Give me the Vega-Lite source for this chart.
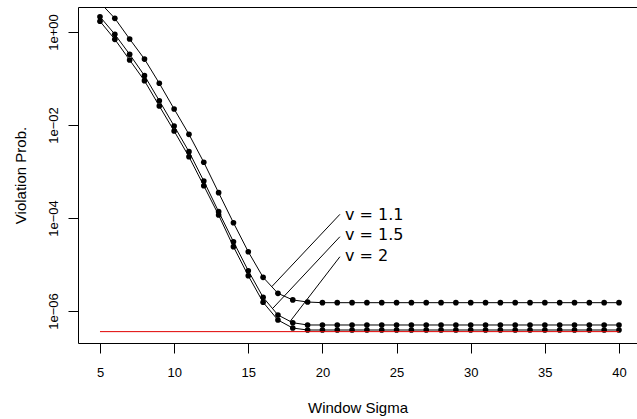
{
  "$schema": "https://vega.github.io/schema/vega-lite/v6.json",
  "width": 559,
  "height": 336,
  "autosize": {"type": "none"},
  "padding": {"left": 78, "top": 7, "right": 0, "bottom": 76},
  "background": "white",
  "view": {"stroke": null},
  "config": {
    "axis": {
      "grid": false,
      "domainColor": "black",
      "domainWidth": 1,
      "tickColor": "black",
      "tickSize": 10,
      "labelColor": "black",
      "titleColor": "black",
      "labelFont": "Liberation Sans",
      "titleFont": "Liberation Sans",
      "labelFontSize": 13,
      "titleFontSize": 15,
      "titleFontWeight": "normal"
    }
  },
  "datasets": {
    "curves": [
      {"x": 5, "p": 4.3, "v": "1.1"}, {"x": 6, "p": 1.97, "v": "1.1"}, {"x": 7, "p": 0.707, "v": "1.1"}, {"x": 8, "p": 0.262, "v": "1.1"},
      {"x": 9, "p": 0.0789, "v": "1.1"}, {"x": 10, "p": 0.0221, "v": "1.1"}, {"x": 11, "p": 0.0063, "v": "1.1"}, {"x": 12, "p": 0.00158, "v": "1.1"},
      {"x": 13, "p": 0.00035, "v": "1.1"}, {"x": 14, "p": 7.9e-5, "v": "1.1"}, {"x": 15, "p": 1.88e-5, "v": "1.1"}, {"x": 16, "p": 5.3e-6, "v": "1.1"},
      {"x": 17, "p": 2.4e-6, "v": "1.1"}, {"x": 18, "p": 1.73e-6, "v": "1.1"}, {"x": 19, "p": 1.56e-6, "v": "1.1"}, {"x": 20, "p": 1.51e-6, "v": "1.1"},
      {"x": 21, "p": 1.51e-6, "v": "1.1"}, {"x": 22, "p": 1.51e-6, "v": "1.1"}, {"x": 23, "p": 1.51e-6, "v": "1.1"}, {"x": 24, "p": 1.51e-6, "v": "1.1"},
      {"x": 25, "p": 1.51e-6, "v": "1.1"}, {"x": 26, "p": 1.51e-6, "v": "1.1"}, {"x": 27, "p": 1.51e-6, "v": "1.1"}, {"x": 28, "p": 1.51e-6, "v": "1.1"},
      {"x": 29, "p": 1.51e-6, "v": "1.1"}, {"x": 30, "p": 1.51e-6, "v": "1.1"}, {"x": 31, "p": 1.51e-6, "v": "1.1"}, {"x": 32, "p": 1.51e-6, "v": "1.1"},
      {"x": 33, "p": 1.51e-6, "v": "1.1"}, {"x": 34, "p": 1.51e-6, "v": "1.1"}, {"x": 35, "p": 1.51e-6, "v": "1.1"}, {"x": 36, "p": 1.51e-6, "v": "1.1"},
      {"x": 37, "p": 1.51e-6, "v": "1.1"}, {"x": 38, "p": 1.51e-6, "v": "1.1"}, {"x": 39, "p": 1.51e-6, "v": "1.1"}, {"x": 40, "p": 1.51e-6, "v": "1.1"},
      {"x": 5, "p": 2.13, "v": "1.5"}, {"x": 6, "p": 0.893, "v": "1.5"}, {"x": 7, "p": 0.331, "v": "1.5"}, {"x": 8, "p": 0.115, "v": "1.5"},
      {"x": 9, "p": 0.0333, "v": "1.5"}, {"x": 10, "p": 0.00951, "v": "1.5"}, {"x": 11, "p": 0.00267, "v": "1.5"}, {"x": 12, "p": 0.000625, "v": "1.5"},
      {"x": 13, "p": 0.000137, "v": "1.5"}, {"x": 14, "p": 3.09e-5, "v": "1.5"}, {"x": 15, "p": 7.35e-6, "v": "1.5"}, {"x": 16, "p": 1.97e-6, "v": "1.5"},
      {"x": 17, "p": 8.2e-7, "v": "1.5"}, {"x": 18, "p": 5.6e-7, "v": "1.5"}, {"x": 19, "p": 5.0e-7, "v": "1.5"}, {"x": 20, "p": 5.0e-7, "v": "1.5"},
      {"x": 21, "p": 5.0e-7, "v": "1.5"}, {"x": 22, "p": 5.0e-7, "v": "1.5"}, {"x": 23, "p": 5.0e-7, "v": "1.5"}, {"x": 24, "p": 5.0e-7, "v": "1.5"},
      {"x": 25, "p": 5.0e-7, "v": "1.5"}, {"x": 26, "p": 5.0e-7, "v": "1.5"}, {"x": 27, "p": 5.0e-7, "v": "1.5"}, {"x": 28, "p": 5.0e-7, "v": "1.5"},
      {"x": 29, "p": 5.0e-7, "v": "1.5"}, {"x": 30, "p": 5.0e-7, "v": "1.5"}, {"x": 31, "p": 5.0e-7, "v": "1.5"}, {"x": 32, "p": 5.0e-7, "v": "1.5"},
      {"x": 33, "p": 5.0e-7, "v": "1.5"}, {"x": 34, "p": 5.0e-7, "v": "1.5"}, {"x": 35, "p": 5.0e-7, "v": "1.5"}, {"x": 36, "p": 5.0e-7, "v": "1.5"},
      {"x": 37, "p": 5.0e-7, "v": "1.5"}, {"x": 38, "p": 5.0e-7, "v": "1.5"}, {"x": 39, "p": 5.0e-7, "v": "1.5"}, {"x": 40, "p": 5.0e-7, "v": "1.5"},
      {"x": 5, "p": 1.7, "v": "2"}, {"x": 6, "p": 0.697, "v": "2"}, {"x": 7, "p": 0.25, "v": "2"}, {"x": 8, "p": 0.0897, "v": "2"},
      {"x": 9, "p": 0.0256, "v": "2"}, {"x": 10, "p": 0.00743, "v": "2"}, {"x": 11, "p": 0.00208, "v": "2"}, {"x": 12, "p": 0.000495, "v": "2"},
      {"x": 13, "p": 0.000116, "v": "2"}, {"x": 14, "p": 2.42e-5, "v": "2"}, {"x": 15, "p": 5.74e-6, "v": "2"}, {"x": 16, "p": 1.54e-6, "v": "2"},
      {"x": 17, "p": 6.4e-7, "v": "2"}, {"x": 18, "p": 4.3e-7, "v": "2"}, {"x": 19, "p": 3.9e-7, "v": "2"}, {"x": 20, "p": 3.9e-7, "v": "2"},
      {"x": 21, "p": 3.9e-7, "v": "2"}, {"x": 22, "p": 3.9e-7, "v": "2"}, {"x": 23, "p": 3.9e-7, "v": "2"}, {"x": 24, "p": 3.9e-7, "v": "2"},
      {"x": 25, "p": 3.9e-7, "v": "2"}, {"x": 26, "p": 3.9e-7, "v": "2"}, {"x": 27, "p": 3.9e-7, "v": "2"}, {"x": 28, "p": 3.9e-7, "v": "2"},
      {"x": 29, "p": 3.9e-7, "v": "2"}, {"x": 30, "p": 3.9e-7, "v": "2"}, {"x": 31, "p": 3.9e-7, "v": "2"}, {"x": 32, "p": 3.9e-7, "v": "2"},
      {"x": 33, "p": 3.9e-7, "v": "2"}, {"x": 34, "p": 3.9e-7, "v": "2"}, {"x": 35, "p": 3.9e-7, "v": "2"}, {"x": 36, "p": 3.9e-7, "v": "2"},
      {"x": 37, "p": 3.9e-7, "v": "2"}, {"x": 38, "p": 3.9e-7, "v": "2"}, {"x": 39, "p": 3.9e-7, "v": "2"}, {"x": 40, "p": 3.9e-7, "v": "2"}
    ],
    "ref": [{"x": 5, "x2": 40, "p": 3.6e-7}],
    "leaders": [
      {"x": 21.18, "p": 1.2e-4, "x2": 16.58, "p2": 3.33e-6},
      {"x": 21.18, "p": 3.96e-5, "x2": 16.65, "p2": 1.14e-6},
      {"x": 21.18, "p": 1.47e-5, "x2": 17.81, "p2": 5.9e-7}
    ],
    "labels": [
      {"x": 21.52, "p": 1.16e-4, "label": "v = 1.1"},
      {"x": 21.52, "p": 4.3e-5, "label": "v = 1.5"},
      {"x": 21.52, "p": 1.52e-5, "label": "v = 2"}
    ]
  },
  "resolve": {"axis": {"x": "independent", "y": "independent"}},
  "layer": [
    {
      "data": {"name": "curves"},
      "mark": {"type": "line", "color": "black", "strokeWidth": 1, "clip": true},
      "encoding": {
        "x": {"field": "x", "type": "quantitative",
              "scale": {"domain": [3.517, 41.214], "nice": false, "zero": false},
              "axis": {"orient": "bottom", "values": [5, 10, 15, 20, 25, 30, 35, 40], "title": "Window Sigma", "labelPadding": 13, "titlePadding": 21, "domain": true, "labelFlush": false}},
        "y": {"field": "p", "type": "quantitative",
              "scale": {"type": "log", "domain": [2.05e-7, 3.45], "nice": false, "zero": false},
              "axis": {"orient": "left", "values": [1, 0.01, 0.0001, 0.000001], "title": "Violation Prob.",
                       "labelExpr": "'1e' + (datum.value >= 1 ? '+00' : '\u22120' + round(-log(datum.value)/LN10))",
                       "labelAngle": 270, "labelAlign": "center", "labelBaseline": "bottom", "labelPadding": 8, "titlePadding": 19, "domain": true, "labelFlush": false}},
        "detail": {"field": "v"}
      }
    },
    {
      "data": {"name": "curves"},
      "mark": {"type": "point", "filled": true, "color": "black", "size": 32, "opacity": 1, "clip": true},
      "encoding": {
        "x": {"field": "x", "type": "quantitative", "scale": {"domain": [3.517, 41.214], "nice": false, "zero": false}, "axis": null},
        "y": {"field": "p", "type": "quantitative", "scale": {"type": "log", "domain": [2.05e-7, 3.45], "nice": false, "zero": false}, "axis": null}
      }
    },
    {
      "data": {"name": "ref"},
      "mark": {"type": "rule", "color": "#e00000", "strokeWidth": 1},
      "encoding": {
        "x": {"field": "x", "type": "quantitative", "scale": {"domain": [3.517, 41.214], "nice": false, "zero": false},
              "axis": {"orient": "top", "ticks": false, "labels": false, "title": null, "domain": true}},
        "x2": {"field": "x2"},
        "y": {"field": "p", "type": "quantitative", "scale": {"type": "log", "domain": [2.05e-7, 3.45], "nice": false, "zero": false}, "axis": null}
      }
    },
    {
      "data": {"name": "leaders"},
      "mark": {"type": "rule", "color": "black", "strokeWidth": 1},
      "encoding": {
        "x": {"field": "x", "type": "quantitative", "scale": {"domain": [3.517, 41.214], "nice": false, "zero": false}, "axis": null},
        "x2": {"field": "x2"},
        "y": {"field": "p", "type": "quantitative", "scale": {"type": "log", "domain": [2.05e-7, 3.45], "nice": false, "zero": false}, "axis": null},
        "y2": {"field": "p2"}
      }
    },
    {
      "data": {"name": "labels"},
      "mark": {"type": "text", "font": "DejaVu Sans", "fontSize": 16, "align": "left", "baseline": "middle", "color": "black"},
      "encoding": {
        "x": {"field": "x", "type": "quantitative", "scale": {"domain": [3.517, 41.214], "nice": false, "zero": false}, "axis": null},
        "y": {"field": "p", "type": "quantitative", "scale": {"type": "log", "domain": [2.05e-7, 3.45], "nice": false, "zero": false}, "axis": null},
        "text": {"field": "label"}
      }
    }
  ]
}
